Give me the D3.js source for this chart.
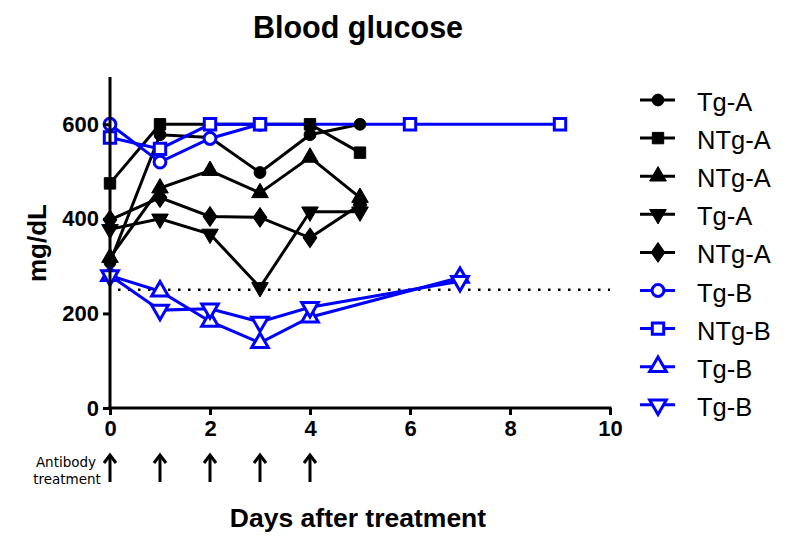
<!DOCTYPE html>
<html><head><meta charset="utf-8">
<script src="https://cdn.jsdelivr.net/npm/d3@7"></script>
<style>body{margin:0;background:#fff}svg{display:block}</style>
</head><body>
<script>
const names = ["Tg-A","NTg-A","NTg-A","Tg-A","NTg-A","Tg-B","NTg-B","Tg-B","Tg-B"];
const colors = ["#000","#000","#000","#000","#000","#0000ff","#0000ff","#0000ff","#0000ff"];
const shapes = ["circle","square","triangle","triangleDown","diamond","circle","square","triangle","triangleDown"];
const filled = [true,true,true,true,true,false,false,false,false];
const days1 = [0,1,2,3,4,5];
const s1 = [308,578,572,498,578,600];
const s2 = [475,600,600,600,600,540];
const s3 = [318,465,502,455,530,445];
const s4 = [378,400,368,255,415,415];
const s5 = [398,445,405,403,360,430];
const days6 = [0,1,2,3];
const s6 = [600,520,570,600];
const days7 = [0,1,2,3,6,9];
const s7 = [572,548,600,600,600,600];
const days8 = [0,1,2,3,4,7];
const s8 = [280,247,183,138,192,276];
const s9 = [280,207,210,182,213,268];
const xTicks = [0,2,4,6,8,10];
const yTicks = [0,200,400,600];
const arrowDays = [0,1,2,3,4];
const threshold = 250;

const series = [
  {x:days1,y:s1},{x:days1,y:s2},{x:days1,y:s3},{x:days1,y:s4},{x:days1,y:s5},
  {x:days6,y:s6},{x:days7,y:s7},{x:days8,y:s8},{x:days8,y:s9}
].map((d,i)=>({...d,name:names[i],color:colors[i],shape:shapes[i],filled:filled[i]}));

const W=795,H=540;
const FONT="Liberation Sans, Arial, sans-serif";
const svg=d3.select("body").append("svg").attr("width",W).attr("height",H);
const x=d3.scaleLinear().domain([0,10]).range([110,610]);
const y=d3.scaleLinear().domain([0,700]).range([408,77]);

const symMap={circle:d3.symbolCircle,square:d3.symbolSquare,triangle:d3.symbolTriangle,triangleDown:d3.symbolTriangle,diamond:d3.symbolDiamond};
const sizeMap={circle:110,square:130,triangle:120,triangleDown:120,diamond:120};
function marker(g,shape,col,fill,cx,cy){
  let tr=`translate(${cx},${cy})`;
  if(shape==="triangleDown") tr+=" rotate(180)";
  if(shape==="diamond") tr+=" scale(1.15,0.95)";
  g.append("path").attr("d",d3.symbol().type(symMap[shape]).size(sizeMap[shape])())
    .attr("transform",tr)
    .attr("fill",fill?col:"#fff").attr("stroke",col).attr("stroke-width",fill?1:3);
}

// threshold dotted line
svg.append("line").attr("x1",x(0)+8).attr("x2",x(10)).attr("y1",y(threshold)).attr("y2",y(threshold))
  .attr("stroke","#000").attr("stroke-width",2.5).attr("stroke-dasharray","2.5,7.5");

const line=d3.line().x(d=>x(d[0])).y(d=>y(d[1]));
series.forEach(s=>{
  const pts=s.x.map((v,i)=>[v,s.y[i]]);
  svg.append("path").attr("d",line(pts)).attr("fill","none").attr("stroke",s.color).attr("stroke-width",3).attr("stroke-linejoin","miter");
});
series.forEach(s=>{
  const g=svg.append("g");
  s.x.forEach((v,i)=>marker(g,s.shape,s.color,s.filled,x(v),y(s.y[i])));
});

// axes
const xa=svg.append("g").attr("transform","translate(0,408)").call(d3.axisBottom(x).tickValues(xTicks).tickSize(7).tickPadding(5));
const ya=svg.append("g").attr("transform","translate(110,0)").call(d3.axisLeft(y).tickValues(yTicks).tickSize(7).tickPadding(4));
[xa,ya].forEach(a=>{
  a.select(".domain").attr("stroke-width",3).attr("stroke","#000");
  a.selectAll(".tick line").attr("stroke-width",3).attr("stroke","#000");
  a.selectAll("text").attr("font-family",FONT).attr("font-size",22).attr("font-weight","bold").attr("fill","#000");
});
ya.select(".domain").attr("d","M0,409.5V77");
xa.select(".domain").attr("d","M108.5,0H611.5");

// titles
svg.append("text").attr("x",358).attr("y",38).attr("text-anchor","middle").attr("font-family",FONT).attr("font-weight","bold").attr("font-size",30.5).text("Blood glucose");
svg.append("text").attr("x",358).attr("y",527).attr("text-anchor","middle").attr("font-family",FONT).attr("font-weight","bold").attr("font-size",26.5).text("Days after treatment");
svg.append("text").attr("transform","translate(46,243) rotate(-90)").attr("text-anchor","middle").attr("font-family",FONT).attr("font-weight","bold").attr("font-size",26).text("mg/dL");

// arrows
arrowDays.forEach(d=>{
  const ax=x(d);
  svg.append("line").attr("x1",ax).attr("x2",ax).attr("y1",455).attr("y2",482).attr("stroke","#000").attr("stroke-width",3);
  svg.append("path").attr("d",`M${ax-6},${463}L${ax},${455}L${ax+6},${463}`).attr("fill","none").attr("stroke","#000").attr("stroke-width",3);
});
svg.append("text").attr("x",66).attr("y",467).attr("text-anchor","middle").attr("font-family","DejaVu Sans, Noto Sans").attr("font-size",13.5).text("Antibody");
svg.append("text").attr("x",67).attr("y",484).attr("text-anchor","middle").attr("font-family","DejaVu Sans, Noto Sans").attr("font-size",13.5).text("treatment");

// legend
series.forEach((s,i)=>{
  const ly=100+i*38.1;
  const g=svg.append("g");
  g.append("line").attr("x1",640).attr("x2",675).attr("y1",ly).attr("y2",ly).attr("stroke",s.color).attr("stroke-width",3);
  marker(g,s.shape,s.color,s.filled,658,ly);
  g.append("text").attr("x",697).attr("y",ly+11).attr("font-family",FONT).attr("font-size",25.5).attr("fill","#000").text(s.name);
});
</script>
</body></html>
